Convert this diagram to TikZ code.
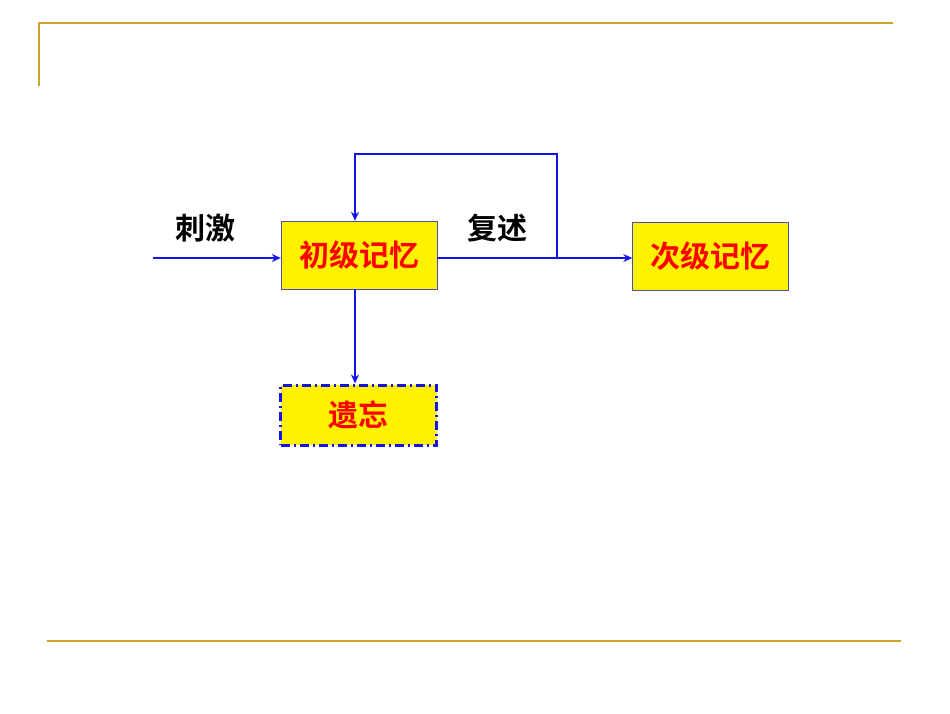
\documentclass[tikz,border=0pt]{standalone}
\usepackage{fontspec}
\usepackage{tikz}
\usetikzlibrary{arrows.meta}
\usepackage{xcolor}
\newfontfamily\cjk{Noto Sans CJK SC}[BoldFont={Noto Sans CJK SC Bold}]
\definecolor{gold}{RGB}{204,164,40}
\definecolor{flowblue}{RGB}{20,20,230}
\tikzset{
  frame/.style={line width=2.2pt,draw=gold},
  membox/.style={draw=gray!60!blue,fill=yellow,minimum width=156pt,minimum height=68pt,
    inner sep=0pt,font=\cjk\bfseries\fontsize{30}{32}\selectfont,text=red},
  lostbox/.style={membox,minimum height=60pt,draw=flowblue,line width=3pt,dash pattern=on 9pt off 4pt on 2pt off 4pt},
  tag/.style={font=\cjk\bfseries\fontsize{30}{32}\selectfont,text=black},
  flow/.style={line width=2.9pt,draw=flowblue,-{Stealth[length=9pt,width=8pt]}}
}

\begin{document}
\begin{tikzpicture}[x=1pt,y=-1pt]
  \useasboundingbox (0,0) rectangle (950,713);
  % slide frame
  \draw[frame] (39,86)--(39,23)--(893,23);
  \draw[frame] (47,641)--(901,641);

  \node[membox] (primary) at (359,255) {\raisebox{-2pt}{初级记忆}};
  \node[membox] (secondary) at (710.5,256.5) {\raisebox{-2pt}{次级记忆}};
  \node[lostbox] (forget) at (358.5,415) {遗忘};

  \node[tag] (stim) at (205,228) {刺激};
  \node[tag] (rehearse) at (497,228) {复述};

  \coordinate (src) at (153,258);
  \coordinate (split) at (557,258);
  \coordinate (loopR) at (557,154);
  \coordinate (loopL) at (355,154);

  \draw[flow] (src) -- (src -| primary.west);
  \draw[flow] (primary.east |- split) -- (split -| secondary.west);
  \draw[flow] (split) -- (loopR) -- (loopL) -- (loopL |- primary.north);
  \draw[flow] (loopL |- primary.south) -- (loopL |- forget.north);
\end{tikzpicture}
\end{document}
